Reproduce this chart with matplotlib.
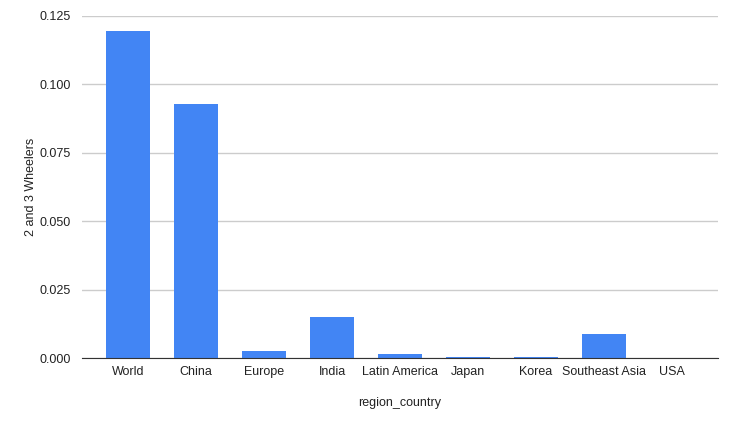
import matplotlib
matplotlib.use("Agg")
import matplotlib.pyplot as plt
import numpy as np

regions = ["World", "China", "Europe", "India", "Latin America", "Japan",
           "Korea", "Southeast Asia", "USA"]
values = [0.1195, 0.0928, 0.0026, 0.0151, 0.0016, 0.0005, 0.0005, 0.0086, 0.0]
y_ticks = [0.0, 0.025, 0.05, 0.075, 0.1, 0.125]

plt.rcParams['font.family'] = ['Liberation Sans', 'DejaVu Sans']

fig = plt.figure(figsize=(7.32, 4.21), dpi=100)
ax = fig.add_axes([0.112, 0.1496, 0.869, 0.8124])

x = np.arange(len(regions))
ax.bar(x, values, width=0.647, color='#4285F4', zorder=3)

ax.set_xlim(-0.676, len(regions) - 1 + 0.676)
ax.set_ylim(0, 0.125)
ax.set_yticks(y_ticks)
ax.set_yticklabels([f"{v:.3f}" for v in y_ticks])
ax.set_xticks(x)
ax.set_xticklabels(regions)
ax.tick_params(axis='both', length=0, labelsize=9, colors='#222222')
ax.tick_params(axis='y', pad=8)
ax.tick_params(axis='x', pad=6)

ax.grid(axis='y', color='#cccccc', linewidth=1, zorder=0)
for s in ['top', 'right', 'left']:
    ax.spines[s].set_visible(False)
ax.spines['bottom'].set_color('#333333')
ax.spines['bottom'].set_zorder(4)

ax.set_xlabel("region_country", fontsize=9, color='#222222')
ax.xaxis.set_label_coords(0.5, -0.115)
ax.set_ylabel("2 and 3 Wheelers", fontsize=9, color='#222222')
ax.yaxis.set_label_coords(-0.07, 0.5)

fig.savefig("out.png", dpi=100)
